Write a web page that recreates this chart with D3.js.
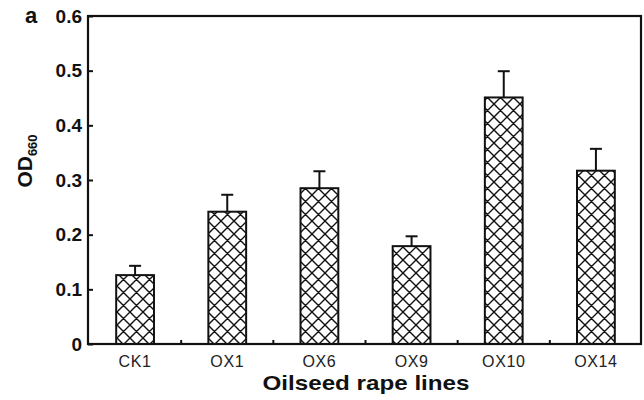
<!DOCTYPE html>
<html><head><meta charset="utf-8">
<script src="https://cdn.jsdelivr.net/npm/d3@7"></script>
<style>body{margin:0;background:#fff}svg{display:block}</style>
</head><body>
<svg id="c" width="644" height="400"></svg>
<script>
const categories = ["CK1","OX1","OX6","OX9","OX10","OX14"];
const means = [0.126,0.242,0.285,0.179,0.451,0.317];
const errors = [0.017,0.031,0.031,0.018,0.048,0.040];
const yTicks = [0,0.1,0.2,0.3,0.4,0.5,0.6];
const yTickLabels = ["0","0.1","0.2","0.3","0.4","0.5","0.6"];

const svg = d3.select("#c");
const L=88, R=641, T=16, B=344;
const x = d3.scaleBand().domain(categories).range([89,642]).paddingInner(0.59).paddingOuter(0.295);
const y = d3.scaleLinear().domain([0,0.6]).range([B,T]);

const defs = svg.append("defs");
const pat = defs.append("pattern").attr("id","hatch").attr("patternUnits","userSpaceOnUse")
  .attr("width",13).attr("height",13);
pat.append("rect").attr("width",13).attr("height",13).attr("fill","#fff");
pat.append("path").attr("d","M0,0L13,13M0,13L13,0M-1,1L1,-1M12,14L14,12M-1,12L1,14M12,-1L14,1")
  .attr("stroke","#111").attr("stroke-width",1.4);

const font = "'Liberation Sans', Arial, sans-serif";

// bars
svg.selectAll("rect.bar").data(categories).join("rect").attr("class","bar")
  .attr("x",d=>x(d)).attr("width",x.bandwidth())
  .attr("y",(d,i)=>y(means[i])).attr("height",(d,i)=>y(0)-y(means[i]))
  .attr("fill","url(#hatch)").attr("stroke","#111").attr("stroke-width",2);

// error bars
const eb = svg.append("g").attr("stroke","#111").attr("stroke-width",2);
categories.forEach((c,i)=>{
  const cx = x(c)+x.bandwidth()/2;
  eb.append("line").attr("x1",cx).attr("x2",cx).attr("y1",y(means[i])).attr("y2",y(means[i]+errors[i]));
  eb.append("line").attr("x1",cx-6).attr("x2",cx+6).attr("y1",y(means[i]+errors[i])).attr("y2",y(means[i]+errors[i]));
});

// y axis (ticks inward)
const yAxis = d3.axisLeft(y).tickValues(yTicks).tickSize(-5).tickPadding(10)
  .tickFormat((d,i)=>yTickLabels[i]);
const gy = svg.append("g").attr("transform",`translate(${L},0)`).call(yAxis);
gy.select(".domain").remove();
gy.selectAll(".tick line").attr("stroke","#111").attr("stroke-width",2);
gy.selectAll(".tick text").attr("font-family",font).attr("font-weight","bold")
  .attr("font-size",19).attr("fill","#111").attr("x",-6);

// x axis
const xAxis = d3.axisBottom(x).tickSize(0).tickPadding(10);
const gx = svg.append("g").attr("transform",`translate(0,${B})`).call(xAxis);
gx.select(".domain").remove();
gx.selectAll(".tick text").attr("font-family",font).attr("font-size",16)
  .attr("letter-spacing","0.6px").attr("fill","#222").attr("dy","0.82em");
// small ticks between categories
const step = x.step();
d3.range(1,categories.length).forEach(k=>{
  const xx = x(categories[k]) - (step - x.bandwidth())/2;
  svg.append("line").attr("x1",xx).attr("x2",xx).attr("y1",B).attr("y2",B-4)
    .attr("stroke","#111").attr("stroke-width",2);
});

// frame
svg.append("rect").attr("x",L).attr("y",T).attr("width",R-L).attr("height",B-T)
  .attr("fill","none").attr("stroke","#111").attr("stroke-width",2.2);

// titles
svg.append("text").attr("x",366).attr("y",390).attr("text-anchor","middle")
  .attr("font-family",font).attr("font-weight","bold").attr("font-size",21)
  .attr("textLength",207).attr("lengthAdjust","spacingAndGlyphs").attr("fill","#111")
  .text("Oilseed rape lines");

const yt = svg.append("text").attr("transform","translate(32,161) rotate(-90)")
  .attr("text-anchor","middle").attr("font-family",font).attr("font-weight","bold")
  .attr("fill","#111");
yt.append("tspan").attr("font-size",21).text("OD");
yt.append("tspan").attr("font-size",13).attr("dy",5).text("660");

svg.append("text").attr("x",25).attr("y",23).attr("font-family",font)
  .attr("font-weight","bold").attr("font-size",22).attr("fill","#111").text("a");
</script>
</body></html>
